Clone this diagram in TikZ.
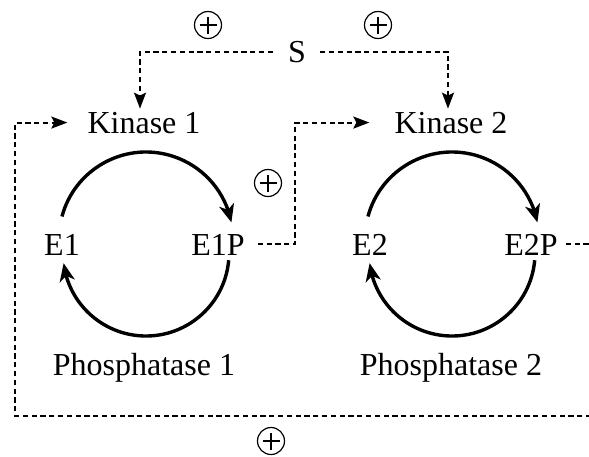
\documentclass[tikz,border=0pt]{standalone}
\usepackage{fontspec}
\setmainfont{Liberation Serif}
\usetikzlibrary{arrows.meta,calc,bending}
\begin{document}
\begin{tikzpicture}[x=1pt,y=-1pt,
  lbl/.style={inner sep=0pt, anchor=base, font=\fontsize{32pt}{38pt}\selectfont},
  dplain/.style={line width=2pt, dash pattern=on 5.2pt off 3.6pt},
  dline/.style={dplain, -{Stealth[length=16pt,width=12pt,inset=3pt]}},
  cyc/.style={line width=3.4pt, -{Stealth[length=18pt,width=15pt,inset=5pt,flex]}},
  plusc/.style={circle, draw, line width=1.2pt, minimum size=27pt, inner sep=0pt,
    path picture={\draw[line width=1.2pt]
      ([xshift=-8.5pt]path picture bounding box.center) -- ([xshift=8.5pt]path picture bounding box.center)
      ([yshift=-8.5pt]path picture bounding box.center) -- ([yshift=8.5pt]path picture bounding box.center);}}]
\useasboundingbox (0,0) rectangle (589,456);
\clip (0,0) rectangle (589,456);
% text nodes
\node[lbl] (S) at (297,62) {S};
\node[lbl] (k1) at (144,133) {Kinase 1};
\node[lbl] (k2) at (451,133) {Kinase 2};
\node[lbl] (e1) at (62,255) {E1};
\node[lbl] (e1p) at (218,255) {E1P};
\node[lbl] (e2) at (370,255) {E2};
\node[lbl] (e2p) at (531,255) {E2P};
\node[lbl] (p1) at (144,375) {Phosphatase 1};
\node[lbl] (p2) at (451,375) {Phosphatase 2};
% plus signs
\node[plusc] (pa) at (208,25) {};
\node[plusc] (pb) at (378,25) {};
\node[plusc] (pc) at (268,183) {};
\node[plusc] (pd) at (271,441) {};
% cycle centres
\coordinate (c1t) at (146,239);
\coordinate (c1b) at (146,253);
\coordinate (c2t) at (452,239);
\coordinate (c2b) at (452,253);
% cycle arcs
\draw[cyc] (c1t) ++(165:87pt) arc[start angle=165, end angle=11, radius=87pt];
\draw[cyc] (c1b) ++(-5:83pt) arc[start angle=-5, end angle=-173, radius=83pt];
\draw[cyc] (c2t) ++(165:87pt) arc[start angle=165, end angle=11, radius=87pt];
\draw[cyc] (c2b) ++(-5:83pt) arc[start angle=-5, end angle=-173, radius=83pt];
% dashed connectors
\draw[dline] ([xshift=-15pt]S.west) -| ([xshift=-4pt,yshift=3pt]k1.north);
\draw[dline] ([xshift=14pt]S.east) -| ([xshift=-3pt,yshift=3pt]k2.north);
\coordinate (m1) at (295,245);
\draw[dline, shorten >=25pt] ([xshift=13pt]e1p.east) -| (m1 |- k2.west) -- (k2.west);
\coordinate (rb) at (600,416);
\coordinate (lc) at (15,416);
\draw[dline, shorten >=20pt] (rb) -- (lc) |- (k1.west);
\coordinate (re) at (600,245);
\draw[dplain] ([xshift=8pt]e2p.east) -- (re |- e2p.east);
\end{tikzpicture}
\end{document}
